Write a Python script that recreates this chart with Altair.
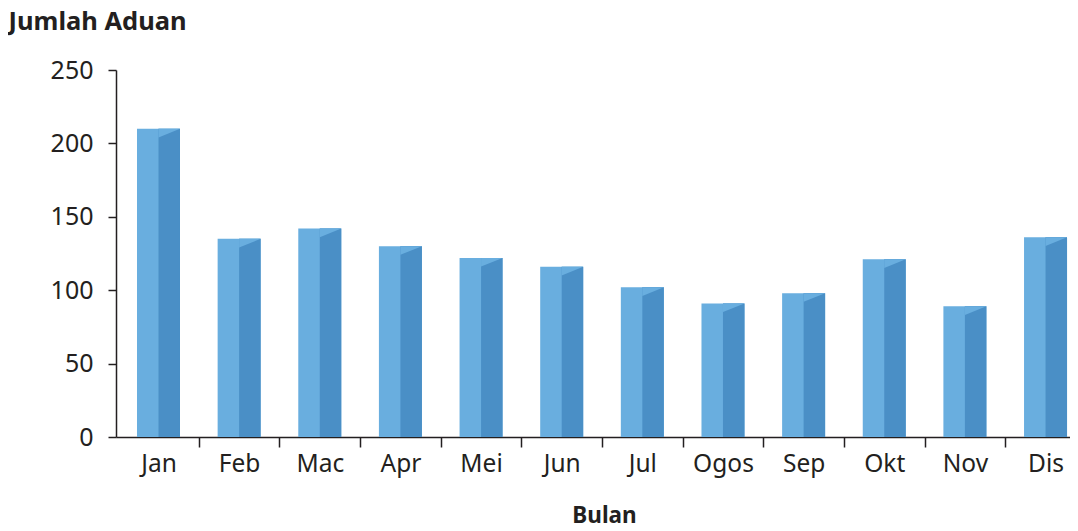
import altair as alt
import pandas as pd

months = ["Jan", "Feb", "Mac", "Apr", "Mei", "Jun", "Jul", "Ogos", "Sep", "Okt", "Nov", "Dis"]
aduan = [210, 135, 142, 130, 122, 116, 102, 91, 98, 121, 89, 136]

df = pd.DataFrame({"idx": list(range(len(months))), "Bulan": months, "Aduan": aduan})

LIGHT = "#69AEDF"
DARK = "#4A8FC6"
INK = "#231F20"
FONT = "Noto Sans"
PLOT_W = 954
STEP = 80.64
X_MIN = -0.527
X_MAX = X_MIN + PLOT_W / STEP

label_expr = "[" + ",".join("'" + m + "'" for m in months) + "][datum.value]"

x_enc = alt.X(
    "idx:Q",
    scale=alt.Scale(domain=[X_MIN, X_MAX], nice=False, zero=False, padding=0),
    axis=alt.Axis(
        title="Bulan",
        titleFont=FONT,
        titleFontSize=22.5,
        titleFontWeight="bold",
        titleColor=INK,
        titleY=85,
        titleX=488,
        titleBaseline="alphabetic",
        values=list(range(len(months))),
        labelExpr=label_expr,
        labelAngle=0,
        labelFont=FONT,
        labelFontSize=24.5,
        labelColor=INK,
        labelPadding=5,
        labelFlush=False,
        labelOverlap=False,
        tickOffset=STEP / 2,
        labelOffset=-STEP / 2,
        tickSize=10,
        tickColor=INK,
        tickWidth=1.5,
        domainColor=INK,
        domainWidth=1.5,
        grid=False,
    ),
)

y_enc = alt.Y(
    "Aduan:Q",
    scale=alt.Scale(domain=[0, 250], nice=False),
    axis=alt.Axis(
        title="Jumlah Aduan",
        titleAngle=0,
        titleAlign="left",
        titleBaseline="alphabetic",
        titleX=-108,
        titleY=-41,
        titleFont=FONT,
        titleFontSize=25.5,
        titleFontWeight="bold",
        titleColor=INK,
        values=[0, 50, 100, 150, 200, 250],
        labelFont=FONT,
        labelFontSize=25,
        labelColor=INK,
        labelPadding=15,
        tickSize=8,
        tickColor=INK,
        tickWidth=1.5,
        domainColor=INK,
        domainWidth=1.5,
        grid=False,
    ),
)

x_plain = alt.X("idx:Q")
y_plain = alt.Y("Aduan:Q")

base = alt.Chart(df)

front = base.mark_bar(color=LIGHT, size=43).encode(x=x_enc, y=y_enc)
side = base.mark_bar(color=DARK, size=21.5, xOffset=10.75).encode(x=x_plain, y=y_plain)
cap = base.mark_point(
    shape="M0,0 L2.15,0 L0,0.87 Z",
    size=400,
    filled=True,
    color=LIGHT,
    opacity=1,
    strokeWidth=0,
).encode(x=x_plain, y=y_plain)

chart = (
    alt.layer(front, side, cap)
    .properties(
        width=PLOT_W,
        height=367,
        autosize=alt.AutoSizeParams(type="none"),
        padding={"left": 108, "top": 62, "right": 0, "bottom": 86},
    )
    .configure_view(stroke=None)
)

chart.save("out.html", embed_options={"renderer": "svg", "actions": False})
